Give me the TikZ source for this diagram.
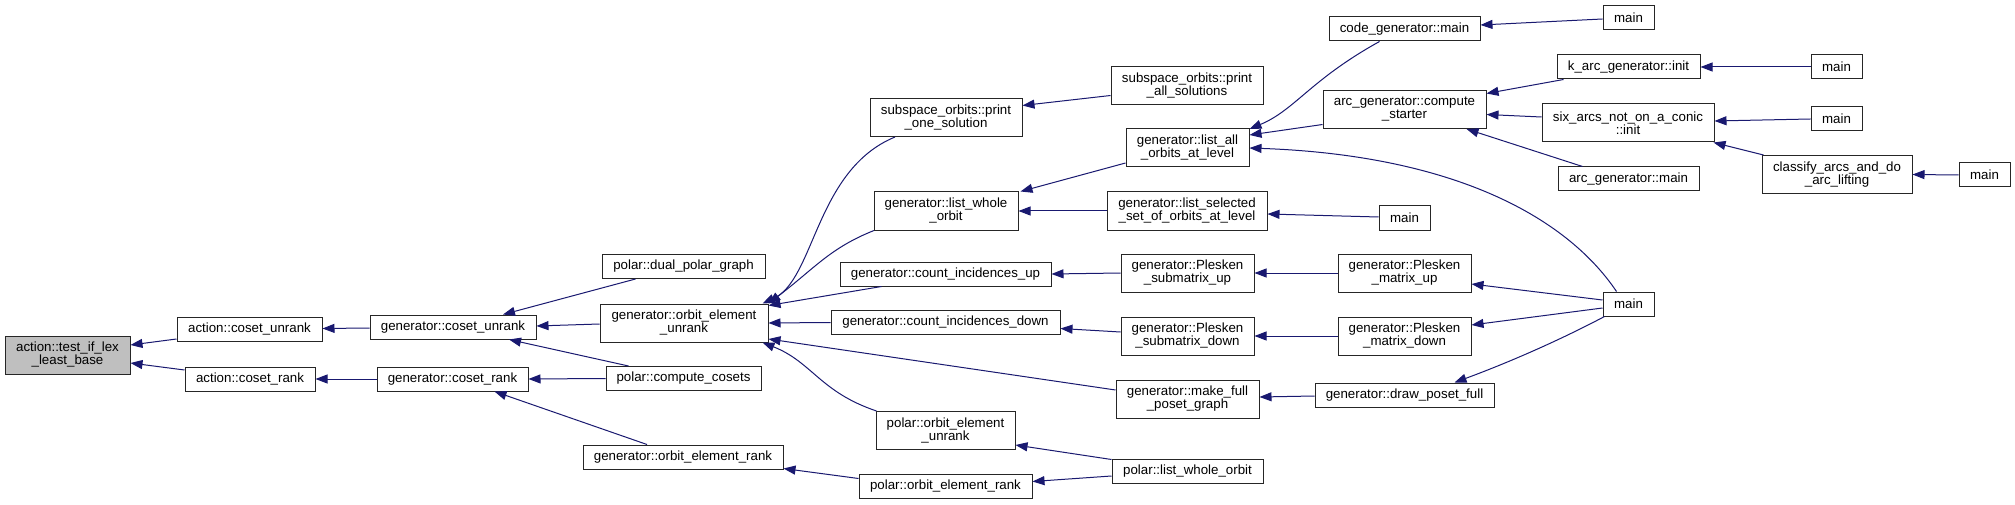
\documentclass[tikz,border=0pt]{standalone}
\usepackage{fontspec}
\setmainfont{Liberation Sans}
\usetikzlibrary{arrows.meta}
\definecolor{mblue}{HTML}{191970}
\tikzset{
  box/.style={draw=black!85, line width=1pt, fill=white, inner sep=0pt, align=center,
    font=\fontsize{13.3}{13}\selectfont},
  one/.style={minimum height=24pt},
  two/.style={minimum height=38pt},
  cg/.style={draw=mblue, line width=1pt, {Triangle[length=12pt,width=9pt]}-}
}
\begin{document}
\begin{tikzpicture}[x=1pt,y=-1pt]
\useasboundingbox[fill=white] (0,0) rectangle (2015,505);
% column 1
\node[box,two,minimum width=125pt,fill=black!25] (tl) at (67.5,355) {action::test\_if\_lex\\\_least\_base};
% column 2
\node[box,one,minimum width=145pt] (acu) at (249.5,329.5) {action::coset\_unrank};
\node[box,one,minimum width=130pt] (acr) at (250,379) {action::coset\_rank};
% column 3
\node[box,one,minimum width=166pt] (gcu) at (453,327) {generator::coset\_unrank};
\node[box,one,minimum width=151pt] (gcr) at (452.5,379) {generator::coset\_rank};
% column 4
\node[box,one,minimum width=163pt] (dpg) at (683.5,266.5) {polar::dual\_polar\_graph};
\node[box,two,minimum width=168pt] (oeu) at (684,323) {generator::orbit\_element\\\_unrank};
\node[box,one,minimum width=155pt] (cc) at (683.5,378.5) {polar::compute\_cosets};
\node[box,one,minimum width=200pt] (oer) at (683,457) {generator::orbit\_element\_rank};
% column 5
\node[box,two,minimum width=152pt] (pos) at (946,117.5) {subspace\_orbits::print\\\_one\_solution};
\node[box,two,minimum width=144pt] (lwo) at (946,211) {generator::list\_whole\\\_orbit};
\node[box,one,minimum width=211pt] (ciu) at (945.5,274) {generator::count\_incidences\_up};
\node[box,one,minimum width=229pt] (cid) at (945.5,322.5) {generator::count\_incidences\_down};
\node[box,two,minimum width=139pt] (poeu) at (945.5,430.5) {polar::orbit\_element\\\_unrank};
\node[box,one,minimum width=173pt] (poer) at (945.5,486.5) {polar::orbit\_element\_rank};
% column 6
\node[box,two,minimum width=152pt] (pas) at (1187,85.5) {subspace\_orbits::print\\\_all\_solutions};
\node[box,two,minimum width=123pt] (lao) at (1187.5,148) {generator::list\_all\\\_orbits\_at\_level};
\node[box,two,minimum width=160pt] (lss) at (1187,211) {generator::list\_selected\\\_set\_of\_orbits\_at\_level};
\node[box,two,minimum width=133pt] (psu) at (1187.5,273) {generator::Plesken\\\_submatrix\_up};
\node[box,two,minimum width=133pt] (psd) at (1187.5,336) {generator::Plesken\\\_submatrix\_down};
\node[box,two,minimum width=143pt] (mfp) at (1187.5,399) {generator::make\_full\\\_poset\_graph};
\node[box,one,minimum width=151pt] (plwo) at (1187.5,471) {polar::list\_whole\_orbit};
% column 7
\node[box,one,minimum width=151pt] (cgm) at (1404.5,29) {code\_generator::main};
\node[box,two,minimum width=163pt] (cs) at (1404.5,109.5) {arc\_generator::compute\\\_starter};
\node[box,one,minimum width=51pt] (mls) at (1404.5,218) {main};
\node[box,two,minimum width=133pt] (pmu) at (1404.5,273) {generator::Plesken\\\_matrix\_up};
\node[box,two,minimum width=133pt] (pmd) at (1404.5,336) {generator::Plesken\\\_matrix\_down};
\node[box,one,minimum width=179pt] (dpf) at (1404.5,395) {generator::draw\_poset\_full};
% column 8
\node[box,one,minimum width=51pt] (m1) at (1628.5,18) {main};
\node[box,one,minimum width=143pt] (kai) at (1628.5,67) {k\_arc\_generator::init};
\node[box,two,minimum width=172pt] (sa) at (1628,123) {six\_arcs\_not\_on\_a\_conic\\::init};
\node[box,one,minimum width=141pt] (agm) at (1628.5,179) {arc\_generator::main};
\node[box,one,minimum width=51pt] (mb) at (1628.5,304) {main};
% column 9
\node[box,one,minimum width=51pt] (m2) at (1836.5,67) {main};
\node[box,one,minimum width=51pt] (m3) at (1836.5,119) {main};
\node[box,two,minimum width=150pt] (cl) at (1837,174.5) {classify\_arcs\_and\_do\\\_arc\_lifting};
% column 10
\node[box,one,minimum width=51pt] (m4) at (1984.5,175) {main};

% edges
\draw[cg] ([yshift=10pt]tl.east) -- ([yshift=-9.5pt]acu.west);
\draw[cg] ([yshift=-8pt]tl.east) -- ([yshift=9pt]acr.west);
\draw[cg] ([yshift=1pt]acu.east) -- ([yshift=-1pt]gcu.west);
\draw[cg] (acr.east) -- (gcr.west);
\draw[cg] ([xshift=50pt]gcu.north) -- ([xshift=-48pt]dpg.south);
\draw[cg] ([yshift=1pt]gcu.east) -- ([yshift=-1pt]oeu.west);
\draw[cg] ([xshift=56pt]gcu.south) -- ([xshift=-55pt]cc.north);
\draw[cg] (gcr.east) -- (cc.west);
\draw[cg] ([xshift=42pt]gcr.south) -- ([xshift=-36pt]oer.north);
\draw[cg] ([xshift=-6pt]oeu.north east) .. controls (815,280) and (815,170) .. ([xshift=-51pt]pos.south);
\draw[cg] (oeu.north east) .. controls (815,268) and (830,248) .. ([xshift=-72pt]lwo.south);
\draw[cg] ([yshift=-2pt]oeu.north east) -- ([xshift=-64pt]ciu.south);
\draw[cg] (oeu.east) -- (cid.west);
\draw[cg] ([yshift=-16pt]oeu.east) -- ([yshift=9pt]mfp.west);
\draw[cg] ([xshift=-6pt]oeu.south east) .. controls (812,362) and (820,392) .. ([xshift=-69pt]poeu.north);
\draw[cg] ([yshift=1pt]oer.south east) -- ([yshift=8pt]poer.west);
\draw[cg] ([yshift=12pt]pos.east) -- ([yshift=-10pt]pas.west);
\draw[cg] ([xshift=2pt]lwo.north east) -- ([yshift=-15pt]lao.west);
\draw[cg] (lwo.east) -- (lss.west);
\draw[cg] (ciu.east) -- (psu.west);
\draw[cg] ([yshift=-6pt]cid.east) -- ([yshift=4pt]psd.west);
\draw[cg] ([yshift=5pt]poeu.south east) -- ([yshift=-1pt]plwo.north west);
\draw[cg] ([yshift=5pt]poer.east) -- ([yshift=-5pt]plwo.west);
\draw[cg] ([yshift=19pt]lao.east) .. controls (1295,110) and (1310,80) .. ([xshift=-25pt]cgm.south);
\draw[cg] ([yshift=13pt]lao.east) -- ([yshift=-15pt]cs.west);
\draw[cg] (lao.east) .. controls (1450,155) and (1565,215) .. ([xshift=-12pt]mb.north);
\draw[cg] ([yshift=-3pt]lss.east) -- ([yshift=1pt]mls.west);
\draw[cg] (psu.east) -- (pmu.west);
\draw[cg] (psd.east) -- (pmd.west);
\draw[cg] ([yshift=2pt]mfp.east) -- ([yshift=-1pt]dpf.west);
\draw[cg] ([yshift=4pt]cgm.east) -- ([yshift=-1pt]m1.west);
\draw[cg] ([yshift=16pt]cs.east) -- ([xshift=-65pt]kai.south);
\draw[cg] ([yshift=-5pt]cs.east) -- ([yshift=6pt]sa.west);
\draw[cg] ([xshift=62pt]cs.south) -- ([xshift=-46pt]agm.north);
\draw[cg] ([yshift=-11pt]pmu.east) -- ([yshift=4pt]mb.west);
\draw[cg] ([yshift=11pt]pmd.east) -- ([yshift=-4pt]mb.west);
\draw[cg] ([xshift=50pt]dpf.north) .. controls (1510,362) and (1560,340) .. ([xshift=2pt]mb.south west);
\draw[cg] (kai.east) -- (m2.west);
\draw[cg] ([yshift=2pt]sa.east) -- (m3.west);
\draw[cg] ([xshift=-1pt]sa.south east) -- ([xshift=2pt]cl.north west);
\draw[cg] (cl.east) -- (m4.west);
\end{tikzpicture}
\end{document}
